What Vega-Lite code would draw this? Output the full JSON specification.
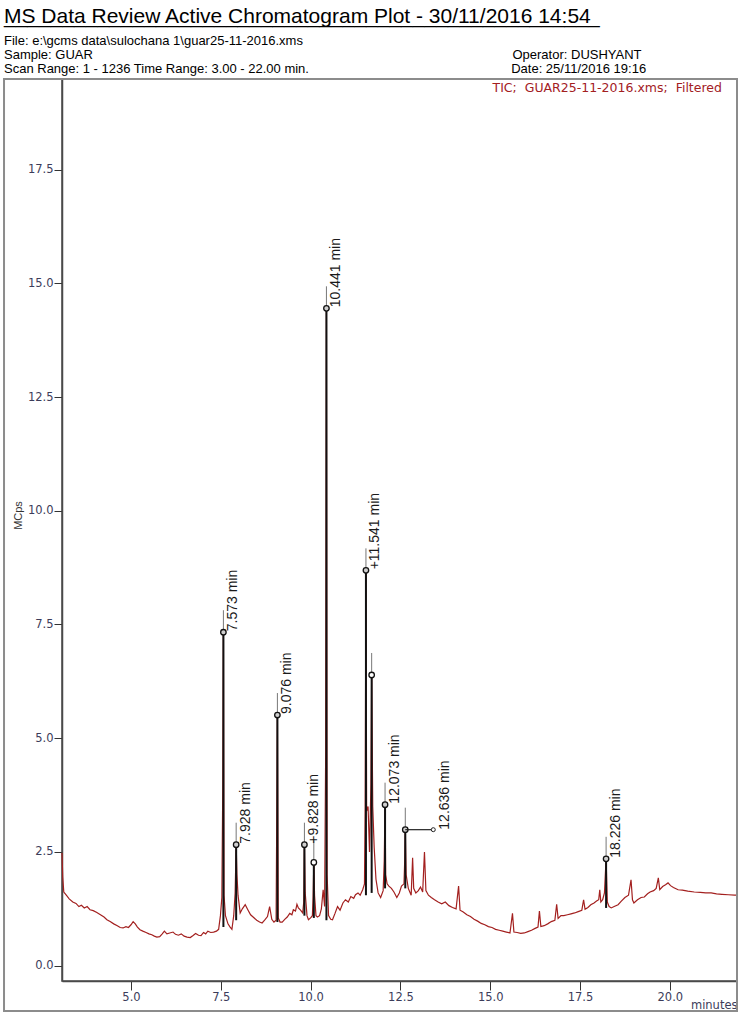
{
  "$schema": "https://vega.github.io/schema/vega-lite/v6.json",
  "width": 675,
  "height": 902,
  "autosize": {"type": "none"},
  "padding": {"left": 62, "top": 79, "right": 6, "bottom": 44},
  "background": "white",
  "config": {
    "view": {"stroke": "#4a4a4a", "strokeWidth": 1.5},
    "axis": {"grid": false}
  },
  "title": {
    "text": ["MS Data Review Active Chromatogram Plot - 30/11/2016 14:54", "___________________________________________________"],
    "subtitle": [
      "File: e:\\gcms data\\sulochana 1\\guar25-11-2016.xms",
      "Sample: GUAR\u2003\u2003\u2003\u2003\u2003\u2003\u2003\u2003\u2003\u2003\u2003\u2003\u2003\u2003\u2003\u2003\u2003\u2003\u2003\u2003\u2003\u2003\u2003\u2003\u2003\u2003\u2003\u2003\u2003\u2003\u2003\u2003\u00a0Operator: DUSHYANT",
      "Scan Range: 1 - 1236 Time Range: 3.00 - 22.00 min.\u2003\u2003\u2003\u2003\u2003\u2003\u2003\u2003\u2003\u2003\u2003\u2003\u2003\u2003\u2003\u00a0\u00a0Date: 25/11/2016 19:16"
    ],
    "anchor": "start",
    "frame": "group",
    "dx": -58,
    "offset": 2,
    "font": "Liberation Sans",
    "fontSize": 21,
    "fontWeight": "normal",
    "color": "#000000",
    "lineHeight": 0.5,
    "subtitleFont": "Liberation Sans",
    "subtitleFontSize": 13,
    "subtitleColor": "#000000",
    "subtitleLineHeight": 14,
    "subtitlePadding": 8
  },
  "datasets": {
    "trace": [
      {"t":3.08,"v":2.48},{"t":3.10,"v":1.95},{"t":3.13,"v":1.62},{"t":3.20,"v":1.55},{"t":3.28,"v":1.47},
      {"t":3.38,"v":1.40},{"t":3.47,"v":1.37},{"t":3.55,"v":1.30},{"t":3.62,"v":1.33},{"t":3.70,"v":1.27},
      {"t":3.78,"v":1.30},{"t":3.86,"v":1.23},{"t":3.95,"v":1.21},{"t":4.05,"v":1.17},{"t":4.15,"v":1.12},
      {"t":4.25,"v":1.07},{"t":4.33,"v":1.01},{"t":4.42,"v":0.97},{"t":4.52,"v":0.92},{"t":4.62,"v":0.88},
      {"t":4.70,"v":0.84},{"t":4.78,"v":0.83},{"t":4.86,"v":0.86},{"t":4.93,"v":0.84},{"t":5.00,"v":0.90},
      {"t":5.06,"v":0.97},{"t":5.12,"v":0.92},{"t":5.18,"v":0.85},{"t":5.25,"v":0.79},{"t":5.33,"v":0.76},
      {"t":5.42,"v":0.73},{"t":5.50,"v":0.70},{"t":5.58,"v":0.68},{"t":5.65,"v":0.65},{"t":5.72,"v":0.63},
      {"t":5.80,"v":0.64},{"t":5.87,"v":0.70},{"t":5.93,"v":0.76},{"t":6.00,"v":0.70},{"t":6.08,"v":0.72},
      {"t":6.17,"v":0.74},{"t":6.24,"v":0.69},{"t":6.32,"v":0.67},{"t":6.40,"v":0.70},{"t":6.48,"v":0.65},
      {"t":6.56,"v":0.63},{"t":6.65,"v":0.62},{"t":6.72,"v":0.66},{"t":6.80,"v":0.71},{"t":6.88,"v":0.67},
      {"t":6.95,"v":0.66},{"t":7.02,"v":0.73},{"t":7.08,"v":0.70},{"t":7.14,"v":0.76},{"t":7.22,"v":0.73},
      {"t":7.30,"v":0.74},{"t":7.38,"v":0.76},{"t":7.44,"v":0.80},{"t":7.49,"v":1.10},{"t":7.53,"v":1.50},
      {"t":7.555,"v":3.90},{"t":7.573,"v":7.33},{"t":7.59,"v":1.55},{"t":7.63,"v":1.10},{"t":7.70,"v":0.92},
      {"t":7.76,"v":0.85},{"t":7.81,"v":0.80},{"t":7.86,"v":1.10},{"t":7.90,"v":1.60},{"t":7.928,"v":2.66},
      {"t":7.95,"v":2.00},{"t":7.98,"v":1.55},{"t":8.04,"v":1.16},{"t":8.10,"v":1.25},{"t":8.18,"v":1.34},
      {"t":8.26,"v":1.22},{"t":8.33,"v":1.12},{"t":8.40,"v":1.07},{"t":8.50,"v":1.00},{"t":8.58,"v":0.96},
      {"t":8.65,"v":0.94},{"t":8.72,"v":1.00},{"t":8.80,"v":1.08},{"t":8.86,"v":1.30},{"t":8.92,"v":1.02},
      {"t":8.98,"v":0.96},{"t":9.04,"v":1.00},{"t":9.076,"v":5.51},{"t":9.10,"v":1.05},{"t":9.15,"v":0.96},
      {"t":9.21,"v":0.96},{"t":9.28,"v":1.02},{"t":9.35,"v":1.07},{"t":9.42,"v":1.15},{"t":9.48,"v":1.12},
      {"t":9.52,"v":1.23},{"t":9.58,"v":1.20},{"t":9.62,"v":1.35},{"t":9.66,"v":1.27},{"t":9.72,"v":1.22},
      {"t":9.78,"v":1.16},{"t":9.81,"v":1.40},{"t":9.828,"v":2.66},{"t":9.85,"v":1.60},{"t":9.90,"v":1.10},
      {"t":9.94,"v":1.01},{"t":10.00,"v":1.05},{"t":10.05,"v":1.10},{"t":10.07,"v":1.50},{"t":10.09,"v":2.27},
      {"t":10.11,"v":1.55},{"t":10.15,"v":1.10},{"t":10.19,"v":1.07},{"t":10.25,"v":1.10},{"t":10.30,"v":1.25},
      {"t":10.35,"v":1.67},{"t":10.39,"v":1.30},{"t":10.42,"v":4.70},{"t":10.441,"v":14.45},{"t":10.46,"v":2.00},
      {"t":10.50,"v":1.10},{"t":10.56,"v":1.02},{"t":10.61,"v":1.01},{"t":10.68,"v":1.15},{"t":10.75,"v":1.30},
      {"t":10.82,"v":1.22},{"t":10.90,"v":1.38},{"t":10.97,"v":1.45},{"t":11.05,"v":1.40},{"t":11.12,"v":1.52},
      {"t":11.20,"v":1.48},{"t":11.25,"v":1.56},{"t":11.32,"v":1.60},{"t":11.38,"v":1.55},{"t":11.45,"v":1.67},
      {"t":11.50,"v":1.80},{"t":11.52,"v":3.50},{"t":11.541,"v":8.69},{"t":11.56,"v":3.40},{"t":11.60,"v":3.50},
      {"t":11.64,"v":2.50},{"t":11.68,"v":4.00},{"t":11.70,"v":6.39},{"t":11.73,"v":3.50},{"t":11.77,"v":2.60},
      {"t":11.82,"v":1.90},{"t":11.88,"v":1.60},{"t":11.95,"v":1.50},{"t":12.02,"v":1.65},{"t":12.05,"v":2.30},
      {"t":12.073,"v":3.54},{"t":12.09,"v":2.00},{"t":12.13,"v":1.80},{"t":12.18,"v":1.75},{"t":12.25,"v":1.70},
      {"t":12.32,"v":1.62},{"t":12.40,"v":1.50},{"t":12.47,"v":1.60},{"t":12.53,"v":1.75},{"t":12.60,"v":1.80},
      {"t":12.62,"v":2.30},{"t":12.636,"v":2.99},{"t":12.66,"v":2.00},{"t":12.72,"v":1.70},{"t":12.80,"v":1.55},
      {"t":12.84,"v":2.37},{"t":12.87,"v":1.70},{"t":12.93,"v":1.60},{"t":13.00,"v":1.65},{"t":13.06,"v":1.73},
      {"t":13.12,"v":1.62},{"t":13.17,"v":2.50},{"t":13.21,"v":1.65},{"t":13.28,"v":1.55},{"t":13.36,"v":1.50},
      {"t":13.45,"v":1.45},{"t":13.55,"v":1.40},{"t":13.65,"v":1.36},{"t":13.75,"v":1.40},{"t":13.85,"v":1.32},
      {"t":13.95,"v":1.28},{"t":14.05,"v":1.25},{"t":14.12,"v":1.75},{"t":14.16,"v":1.22},{"t":14.25,"v":1.18},
      {"t":14.35,"v":1.12},{"t":14.45,"v":1.08},{"t":14.55,"v":1.02},{"t":14.65,"v":0.98},{"t":14.75,"v":0.93},
      {"t":14.85,"v":0.90},{"t":14.95,"v":0.86},{"t":15.05,"v":0.84},{"t":15.15,"v":0.80},{"t":15.25,"v":0.78},
      {"t":15.35,"v":0.76},{"t":15.45,"v":0.74},{"t":15.55,"v":0.72},{"t":15.62,"v":1.15},{"t":15.66,"v":0.74},
      {"t":15.75,"v":0.73},{"t":15.85,"v":0.71},{"t":15.95,"v":0.72},{"t":16.05,"v":0.75},{"t":16.15,"v":0.78},
      {"t":16.25,"v":0.82},{"t":16.33,"v":0.85},{"t":16.37,"v":1.20},{"t":16.41,"v":0.86},{"t":16.50,"v":0.88},
      {"t":16.60,"v":0.92},{"t":16.70,"v":0.97},{"t":16.80,"v":1.00},{"t":16.85,"v":1.35},{"t":16.89,"v":1.04},
      {"t":16.97,"v":1.10},{"t":17.05,"v":1.10},{"t":17.15,"v":1.12},{"t":17.25,"v":1.14},{"t":17.35,"v":1.16},
      {"t":17.45,"v":1.19},{"t":17.55,"v":1.22},{"t":17.60,"v":1.45},{"t":17.64,"v":1.24},{"t":17.72,"v":1.28},
      {"t":17.80,"v":1.34},{"t":17.89,"v":1.38},{"t":17.96,"v":1.42},{"t":18.02,"v":1.45},{"t":18.05,"v":1.67},
      {"t":18.08,"v":1.40},{"t":18.13,"v":1.45},{"t":18.18,"v":1.60},{"t":18.226,"v":2.35},{"t":18.26,"v":1.40},
      {"t":18.31,"v":1.30},{"t":18.37,"v":1.27},{"t":18.45,"v":1.30},{"t":18.56,"v":1.34},{"t":18.65,"v":1.42},
      {"t":18.75,"v":1.50},{"t":18.85,"v":1.55},{"t":18.92,"v":1.89},{"t":18.96,"v":1.45},{"t":19.00,"v":1.38},
      {"t":19.10,"v":1.45},{"t":19.20,"v":1.50},{"t":19.29,"v":1.51},{"t":19.38,"v":1.58},{"t":19.45,"v":1.62},
      {"t":19.55,"v":1.65},{"t":19.62,"v":1.70},{"t":19.68,"v":1.93},{"t":19.72,"v":1.67},{"t":19.80,"v":1.74},
      {"t":19.88,"v":1.78},{"t":19.95,"v":1.82},{"t":20.02,"v":1.76},{"t":20.10,"v":1.72},{"t":20.23,"v":1.67},
      {"t":20.35,"v":1.66},{"t":20.50,"v":1.64},{"t":20.68,"v":1.62},{"t":20.85,"v":1.61},{"t":21.00,"v":1.60},
      {"t":21.15,"v":1.60},{"t":21.30,"v":1.58},{"t":21.45,"v":1.57},{"t":21.63,"v":1.56},{"t":21.80,"v":1.55},
      {"t":21.87,"v":1.55}
    ],
    "peaks": [
      {"t":7.573,"apex":7.33,"base":0.85,"label":"7.573 min"},
      {"t":7.928,"apex":2.66,"base":1.0,"label":"7.928 min"},
      {"t":9.076,"apex":5.51,"base":0.96,"label":"9.076 min"},
      {"t":9.828,"apex":2.66,"base":1.1,"label":"+9.828 min"},
      {"t":10.09,"apex":2.27,"base":1.05,"label":null},
      {"t":10.441,"apex":14.45,"base":1.0,"label":"10.441 min"},
      {"t":11.541,"apex":8.69,"base":1.55,"label":"+11.541 min"},
      {"t":11.70,"apex":6.39,"base":1.6,"label":null},
      {"t":12.073,"apex":3.54,"base":1.7,"label":"12.073 min"},
      {"t":12.636,"apex":2.99,"base":1.7,"label":"12.636 min"},
      {"t":18.226,"apex":2.35,"base":1.27,"label":"18.226 min"}
    ]
  },
  "layer": [
    {
      "data": {"name": "trace"},
      "mark": {"type": "line", "strokeWidth": 1.2},
      "encoding": {
        "x": {
          "field": "t", "type": "quantitative",
          "scale": {"domain": [3.08, 21.87], "nice": false, "zero": false},
          "axis": {
            "values": [5, 7.5, 10, 12.5, 15, 17.5, 20], "format": ".1f",
            "tickSize": 9, "labelPadding": 1, "tickColor": "#333333",
            "domainColor": "#4a4a4a", "domainWidth": 1.5,
            "labelFont": "DejaVu Sans", "labelFontSize": 11.5, "labelColor": "#3c3c5a",
            "title": "minutes", "titleAnchor": "end", "titleAlign": "right", "titleBaseline": "top",
            "titleY": 18, "titleFont": "DejaVu Sans", "titleFontSize": 11.5,
            "titleFontWeight": "normal", "titleColor": "#3c3c5a"
          }
        },
        "y": {
          "field": "v", "type": "quantitative",
          "scale": {"domain": [-0.336, 19.49], "nice": false, "zero": false},
          "axis": {
            "values": [0, 2.5, 5, 7.5, 10, 12.5, 15, 17.5], "format": ".1f",
            "tickSize": 8, "labelPadding": 1, "tickColor": "#333333",
            "domainColor": "#4a4a4a", "domainWidth": 1.5,
            "labelFont": "DejaVu Sans", "labelFontSize": 11.5, "labelColor": "#3c3c5a",
            "title": "MCps", "titleFont": "Liberation Sans", "titleFontSize": 11,
            "titleFontWeight": "normal", "titleColor": "#333333", "titlePadding": 4, "titleY": 436
          }
        },
        "color": {
          "datum": "TIC;\u00a0 GUAR25-11-2016.xms;\u00a0 Filtered",
          "scale": {"range": ["#a3201f"]},
          "legend": {
            "orient": "none", "legendX": 418, "legendY": 3, "title": null,
            "symbolSize": 0, "symbolStrokeWidth": 0, "symbolOpacity": 0,
            "labelOffset": 0, "padding": 0, "labelLimit": 500,
            "labelFont": "DejaVu Sans", "labelFontSize": 12.5, "labelColor": "#a3201f"
          }
        }
      }
    },
    {
      "data": {"values": [{}]},
      "mark": {"type": "rect", "fill": "transparent", "stroke": "#8c8c8c", "strokeWidth": 2},
      "encoding": {
        "x": {"datum": 1.466, "type": "quantitative"},
        "x2": {"datum": 21.87},
        "y": {"datum": -0.998, "type": "quantitative"},
        "y2": {"datum": 19.49}
      }
    },
    {
      "data": {"name": "peaks"},
      "mark": {"type": "rule", "color": "#111111", "strokeWidth": 2},
      "encoding": {
        "x": {"field": "t", "type": "quantitative"},
        "y": {"field": "base", "type": "quantitative"},
        "y2": {"field": "apex"}
      }
    },
    {
      "data": {"name": "peaks"},
      "mark": {"type": "rule", "color": "#777777", "strokeWidth": 1, "y2Offset": -22},
      "encoding": {
        "x": {"field": "t", "type": "quantitative"},
        "y": {"field": "apex", "type": "quantitative"},
        "y2": {"field": "apex"}
      }
    },
    {
      "data": {"name": "peaks"},
      "mark": {"type": "point", "shape": "circle", "filled": true, "stroke": "#111111", "strokeWidth": 1.3, "size": 30, "opacity": 1},
      "encoding": {
        "x": {"field": "t", "type": "quantitative"},
        "y": {"field": "apex", "type": "quantitative"},
        "fill": {"condition": {"test": "datum.label == null", "value": "#ffffff"}, "value": "#cfcfcf"}
      }
    },
    {
      "data": {"name": "peaks"},
      "transform": [{"filter": "datum.label != null && datum.label != '12.636 min'"}],
      "mark": {"type": "text", "angle": 270, "align": "left", "baseline": "middle", "dx": 1, "dy": 9.5, "font": "Liberation Sans", "fontSize": 14, "color": "#1a1a1a"},
      "encoding": {
        "x": {"field": "t", "type": "quantitative"},
        "y": {"field": "apex", "type": "quantitative"},
        "text": {"field": "label"}
      }
    },
    {
      "data": {"name": "peaks"},
      "transform": [{"filter": "datum.label == '12.636 min'"}],
      "mark": {"type": "rule", "color": "#222222", "strokeWidth": 1.2, "x2Offset": 28},
      "encoding": {
        "x": {"field": "t", "type": "quantitative"},
        "x2": {"field": "t"},
        "y": {"field": "apex", "type": "quantitative"}
      }
    },
    {
      "data": {"name": "peaks"},
      "transform": [{"filter": "datum.label == '12.636 min'"}],
      "mark": {"type": "point", "shape": "circle", "filled": true, "fill": "#ffffff", "stroke": "#222222", "strokeWidth": 1, "size": 16, "xOffset": 28, "opacity": 1},
      "encoding": {
        "x": {"field": "t", "type": "quantitative"},
        "y": {"field": "apex", "type": "quantitative"}
      }
    },
    {
      "data": {"name": "peaks"},
      "transform": [{"filter": "datum.label == '12.636 min'"}],
      "mark": {"type": "text", "angle": 270, "align": "left", "baseline": "middle", "dx": 0, "dy": 40, "font": "Liberation Sans", "fontSize": 14, "color": "#1a1a1a"},
      "encoding": {
        "x": {"field": "t", "type": "quantitative"},
        "y": {"field": "apex", "type": "quantitative"},
        "text": {"field": "label"}
      }
    }
  ]
}
